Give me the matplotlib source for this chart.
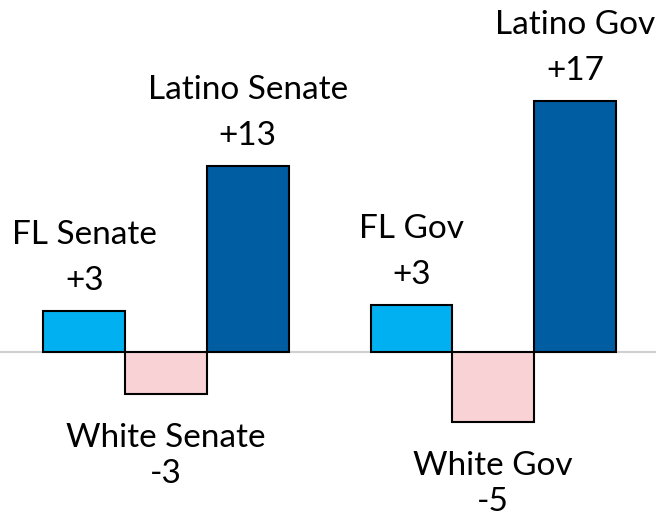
import matplotlib
matplotlib.use("Agg")
import matplotlib.pyplot as plt

names = ["FL Senate", "White Senate", "Latino Senate", "FL Gov", "White Gov", "Latino Gov"]
values = [2.8, -2.8, 12.6, 3.2, -4.7, 17.0]
value_labels = ["+3", "-3", "+13", "+3", "-5", "+17"]
positions = [0, 1, 2, 4, 5, 6]
colors = ["#00B0F0", "#F8D2D4", "#005DA2", "#00B0F0", "#F8D2D4", "#005DA2"]

plt.rcParams['font.family'] = ['Lato', 'DejaVu Sans']

fig = plt.figure(figsize=(6.56, 5.18), dpi=100)
ax = fig.add_axes([0, 0, 1, 1])
ax.set_xlim(-1.03, 6.99)
ax.set_ylim(-11.2, 23.8)
ax.axis('off')

ax.axhline(0, color="#d0d0d0", lw=1.5, zorder=1)
ax.bar(positions, values, width=1.0, color=colors, edgecolor="black", linewidth=1.5, zorder=2)

fs = 24
for x, v, n, lab in zip(positions, values, names, value_labels):
    if v >= 0:
        ax.annotate(lab, (x, v), xytext=(0, 30), textcoords='offset pixels',
                    ha='center', va='center', fontsize=fs)
        ax.annotate(n, (x, v), xytext=(0, 76), textcoords='offset pixels',
                    ha='center', va='center', fontsize=fs)
    else:
        ax.annotate(n, (x, v), xytext=(0, -44), textcoords='offset pixels',
                    ha='center', va='center', fontsize=fs)
        ax.annotate(lab, (x, v), xytext=(0, -80), textcoords='offset pixels',
                    ha='center', va='center', fontsize=fs)

fig.savefig("out.png", dpi=100)
